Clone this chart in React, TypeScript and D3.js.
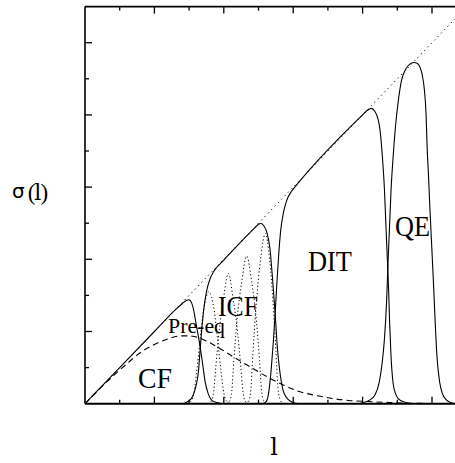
import React from "react";
import * as d3 from "d3";

// ---- data (x in units of l-ticks, y in units of sigma-ticks) ----
const DIAGONAL = [[0, 0], [12, 12]];

const CF = [
  [0, 0], [1, 1], [2, 2], [2.6, 2.6], [2.8, 2.77], [2.92, 2.86], [3.0, 2.88], [3.07, 2.8],
  [3.13, 2.6], [3.2, 2.22], [3.27, 1.85], [3.33, 1.5], [3.39, 1.1], [3.46, 0.62], [3.55, 0.28],
  [3.65, 0.1], [3.8, 0.03], [3.95, 0],
];

const ICF = [
  [2.8, 0], [2.95, 0.05], [3.1, 0.2], [3.2, 0.5], [3.27, 0.9], [3.31, 1.4], [3.36, 2.0],
  [3.42, 2.6], [3.5, 3.1], [3.6, 3.45], [3.7, 3.65], [3.8, 3.78], [3.9, 3.88], [4.0, 3.98],
  [4.9, 4.88], [5.0, 4.97], [5.07, 4.99], [5.15, 4.93], [5.24, 4.75], [5.33, 4.3], [5.41, 3.4],
  [5.48, 2.5], [5.54, 1.6], [5.62, 0.85], [5.7, 0.4], [5.8, 0.18], [5.96, 0.05], [6.15, 0],
];

const DIT = [
  [5.1, 0], [5.22, 0.06], [5.3, 0.35], [5.37, 1.0], [5.43, 1.75], [5.48, 2.5], [5.53, 3.35],
  [5.58, 4.1], [5.64, 4.8], [5.72, 5.3], [5.82, 5.65], [5.95, 5.88], [6.1, 6.06], [8.0, 8.0],
  [8.13, 8.12], [8.25, 8.18], [8.35, 8.1], [8.44, 7.9], [8.5, 7.6], [8.57, 6.84], [8.63, 5.92],
  [8.67, 4.99], [8.71, 4.07], [8.75, 3.15], [8.78, 2.22], [8.82, 1.3], [8.88, 0.56], [8.96, 0.25],
  [9.05, 0.12], [9.22, 0.04], [9.4, 0],
];

const QE = [
  [7.9, 0], [8.02, 0.03], [8.2, 0.1], [8.36, 0.25], [8.48, 0.6], [8.56, 1.1], [8.63, 1.8],
  [8.69, 2.8], [8.74, 4.07], [8.78, 4.99], [8.82, 5.92], [8.88, 6.84], [8.95, 7.7], [9.03, 8.4],
  [9.12, 8.95], [9.25, 9.28], [9.38, 9.42], [9.48, 9.45], [9.57, 9.43], [9.65, 9.33], [9.72, 9.1],
  [9.78, 8.7], [9.83, 8.0], [9.86, 7.1], [9.9, 6.3], [9.94, 5.4], [9.99, 4.4], [10.04, 3.4],
  [10.09, 2.3], [10.14, 1.35], [10.22, 0.6], [10.3, 0.28], [10.4, 0.12], [10.52, 0.04], [10.65, 0],
];

const PRE_EQ = [
  [0, 0], [0.4, 0.39], [0.8, 0.76], [1.2, 1.1], [1.6, 1.42], [2.0, 1.64], [2.4, 1.8], [2.8, 1.88],
  [3.1, 1.87], [3.4, 1.78], [3.8, 1.58], [4.27, 1.3], [4.76, 1.02], [5.24, 0.75], [5.71, 0.52],
  [6.2, 0.33], [6.7, 0.22], [7.16, 0.14], [7.6, 0.09], [8.12, 0.06], [8.6, 0.04], [9.08, 0.02],
  [9.6, 0.01], [10.6, 0],
];

const ICF_PART1 = [
  [2.94, 0], [3.04, 0.05], [3.14, 0.3], [3.22, 0.9], [3.32, 1.8], [3.42, 2.6], [3.57, 3.1],
  [3.72, 2.6], [3.82, 1.8], [3.92, 0.9], [4.0, 0.3], [4.1, 0.05], [4.2, 0],
];
const ICF_PART2 = [
  [3.55, 0], [3.65, 0.08], [3.71, 0.35], [3.77, 1.02], [3.86, 1.95], [3.99, 2.9], [4.13, 3.61],
  [4.27, 2.9], [4.4, 1.95], [4.49, 1.02], [4.55, 0.35], [4.61, 0.08], [4.71, 0],
];
const ICF_PART3 = [
  [4.08, 0], [4.17, 0.08], [4.23, 0.35], [4.29, 1.2], [4.38, 2.3], [4.52, 3.4], [4.66, 4.09],
  [4.8, 3.4], [4.94, 2.3], [5.03, 1.2], [5.09, 0.35], [5.15, 0.08], [5.24, 0],
];
const ICF_PART4 = [
  [4.62, 0], [4.72, 0.08], [4.78, 0.4], [4.84, 1.4], [4.93, 2.7], [5.06, 4.0], [5.2, 4.72],
  [5.32, 4.0], [5.42, 2.8], [5.5, 1.5], [5.56, 0.45], [5.63, 0.1], [5.72, 0],
];

const X_TICKS = [1, 2, 3, 4, 5, 6, 7, 8, 9, 10, 11];
const Y_TICKS = [1, 2, 3, 4, 5, 6, 7, 8, 9, 10];
const REGION_LABELS = ["CF", "Pre-eq", "ICF", "DIT", "QE"];
const X_TITLE = "l";
const Y_TITLE = ["σ", "(", "l", ")"];

// ---- layout (pixels) ----
const LABEL_POS = [
  { x: 138, y: 388, size: 29, len: 34 },
  { x: 168, y: 333, size: 22, len: 57 },
  { x: 218, y: 316, size: 29, len: 40 },
  { x: 308, y: 271, size: 29, len: 44 },
  { x: 395, y: 236, size: 29, len: 35 },
];

const SERIF = "Liberation Serif, Times New Roman, DejaVu Serif, serif";
const L_FONT = "DejaVu Serif, serif";

export default function App() {
  const W = 455;
  const H = 463;
  const left = 85;
  const bottom = 403.7;
  const xs = d3.scaleLinear().domain([0, 12]).range([left, left + 12 * 34.7]);
  const ys = d3.scaleLinear().domain([0, 11]).range([bottom, bottom - 11 * 36.1]);
  const top = ys(11);

  const line = d3
    .line<number[]>()
    .x((d) => xs(d[0]))
    .y((d) => ys(d[1]))
    .curve(d3.curveMonotoneX);

  const straight = d3
    .line<number[]>()
    .x((d) => xs(d[0]))
    .y((d) => ys(d[1]));

  const solid = [CF, ICF, DIT, QE];
  const parts = [ICF_PART1, ICF_PART2, ICF_PART3, ICF_PART4];

  return (
    <svg
      width={W}
      height={H}
      viewBox={`0 0 ${W} ${H}`}
      style={{ position: "absolute", left: 0, top: 0, background: "#fff" }}
    >
      <defs>
        <clipPath id="plotClip">
          <rect x={left} y={top} width={W - left} height={bottom - top} />
        </clipPath>
      </defs>
      <rect x={0} y={0} width={W} height={H} fill="#fff" />

      <g clipPath="url(#plotClip)" fill="none" stroke="#000">
        <path d={straight(DIAGONAL) || ""} strokeWidth={1} strokeDasharray="1.2 3.6" />
        {parts.map((p, i) => (
          <path key={"p" + i} d={line(p) || ""} strokeWidth={1} strokeDasharray="1.2 2.4" />
        ))}
        <path d={line(PRE_EQ) || ""} strokeWidth={1.1} strokeDasharray="6 4" />
        {solid.map((s, i) => (
          <path key={"s" + i} d={line(s) || ""} strokeWidth={1.1} />
        ))}
      </g>

      {/* frame */}
      <g stroke="#000" fill="none">
        <line x1={left} y1={top} x2={left} y2={bottom} strokeWidth={1.6} />
        <line x1={left} y1={top} x2={W} y2={top} strokeWidth={1.8} />
        <line x1={left} y1={bottom} x2={W} y2={bottom} strokeWidth={2} />
        {X_TICKS.map((t) => {
          const len = t % 2 === 0 ? 7 : 4;
          return (
            <g key={"xt" + t}>
              <line x1={xs(t)} x2={xs(t)} y1={bottom} y2={bottom - len} strokeWidth={1.3} />
              <line x1={xs(t)} x2={xs(t)} y1={top} y2={top + len} strokeWidth={1.3} />
            </g>
          );
        })}
        {Y_TICKS.map((t) => {
          const len = t % 2 === 0 ? 7 : 4;
          return (
            <line key={"yt" + t} x1={left} x2={left + len} y1={ys(t)} y2={ys(t)} strokeWidth={1.3} />
          );
        })}
      </g>

      {/* region labels */}
      {REGION_LABELS.map((lab, i) => (
        <text
          key={lab}
          x={LABEL_POS[i].x}
          y={LABEL_POS[i].y}
          fontFamily={SERIF}
          fontSize={LABEL_POS[i].size}
          textLength={LABEL_POS[i].len}
          lengthAdjust="spacingAndGlyphs"
          fill="#000"
        >
          {lab}
        </text>
      ))}

      {/* axis titles */}
      <text x={274} y={455} textAnchor="middle" fontFamily={L_FONT} fontSize={24} fill="#000">
        {X_TITLE}
      </text>
      <text x={12} y={198} fill="#000">
        <tspan fontFamily="DejaVu Sans, sans-serif" fontSize={20}>{Y_TITLE[0]}</tspan>
        <tspan dx={3} y={200} fontFamily={SERIF} fontSize={23}>{Y_TITLE[1]}</tspan>
        <tspan dx={-1} fontFamily={L_FONT} fontSize={22}>{Y_TITLE[2]}</tspan>
        <tspan dx={-1} fontFamily={SERIF} fontSize={23}>{Y_TITLE[3]}</tspan>
      </text>
    </svg>
  );
}
